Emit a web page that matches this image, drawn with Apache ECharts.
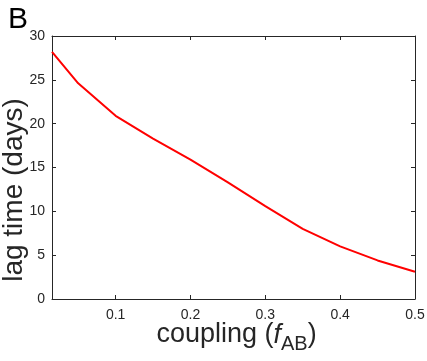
<!DOCTYPE html>
<html><head><meta charset="utf-8">
<script src="https://cdn.jsdelivr.net/npm/echarts@6/dist/echarts.min.js"></script>
<style>html,body{margin:0;padding:0;background:#fff}#c{width:427px;height:361px}</style>
</head><body><div id="c"></div>
<script>
const coupling = [0.015, 0.05, 0.1, 0.15, 0.2, 0.25, 0.3, 0.35, 0.4, 0.45, 0.5];
const lagTime = [28.2, 24.6, 20.9, 18.3, 15.9, 13.3, 10.6, 8.0, 6.0, 4.4, 3.1];
const xTicks = [0.1, 0.2, 0.3, 0.4, 0.5];
const yTicks = [0, 5, 10, 15, 20, 25, 30];

const font = 'Liberation Sans, Arial, Helvetica, sans-serif';
const axCol = '#262626';
const chart = echarts.init(document.getElementById('c'), null, {renderer: 'canvas'});
const xBase = {
  type: 'value', min: 0.015, max: 0.5,
  axisLine: {show: true, onZero: false, lineStyle: {color: axCol, width: 1}},
  axisTick: {show: true, inside: true, length: 4, customValues: xTicks, lineStyle: {color: axCol}},
  splitLine: {show: false}
};
const yBase = {
  type: 'value', min: 0, max: 30, interval: 5,
  axisLine: {show: true, onZero: false, lineStyle: {color: axCol, width: 1}},
  axisTick: {show: true, inside: true, length: 4, customValues: yTicks, lineStyle: {color: axCol}},
  splitLine: {show: false}
};
chart.setOption({
  animation: false,
  title: {text: 'B', left: 3, top: 0, textStyle: {fontFamily: font, fontSize: 30, fontWeight: 'normal', color: '#000'}},
  grid: {left: 52, right: 12, top: 36, bottom: 62, containLabel: false, outerBoundsMode: 'none'},
  xAxis: [
    Object.assign({}, xBase, {
      position: 'bottom',
      axisLabel: {show: true, customValues: xTicks, formatter: v => String(v), fontFamily: font, fontSize: 14, color: axCol, margin: 9},
      name: '{n|coupling (}{i|f}{s|AB}{n|)}',
      nameLocation: 'middle', nameGap: 17, nameMoveOverlap: false,
      nameTextStyle: {verticalAlign: 'top', padding: [0, 0, 0, 6], rich: {
        n: {fontFamily: font, fontSize: 27, color: axCol},
        i: {fontFamily: font, fontSize: 27, fontStyle: 'italic', color: axCol},
        s: {fontFamily: font, fontSize: 20, color: axCol, padding: [18, 0, 0, 0]}
      }}
    }),
    Object.assign({}, xBase, {position: 'top', axisLabel: {show: false}})
  ],
  yAxis: [
    Object.assign({}, yBase, {
      position: 'left',
      axisLabel: {show: true, customValues: yTicks, fontFamily: font, fontSize: 14, color: axCol, margin: 7},
      name: 'lag time (days)', nameLocation: 'middle', nameGap: 24, nameMoveOverlap: false,
      nameTextStyle: {fontFamily: font, fontSize: 28, color: axCol, padding: [0, 45, 0, 0]}
    }),
    Object.assign({}, yBase, {position: 'right', axisLabel: {show: false}})
  ],
  series: [{
    type: 'line', xAxisIndex: 0, yAxisIndex: 0,
    data: coupling.map((x, i) => [x, lagTime[i]]),
    symbol: 'none', lineStyle: {color: '#ff0000', width: 2}
  }]
});
</script></body></html>
